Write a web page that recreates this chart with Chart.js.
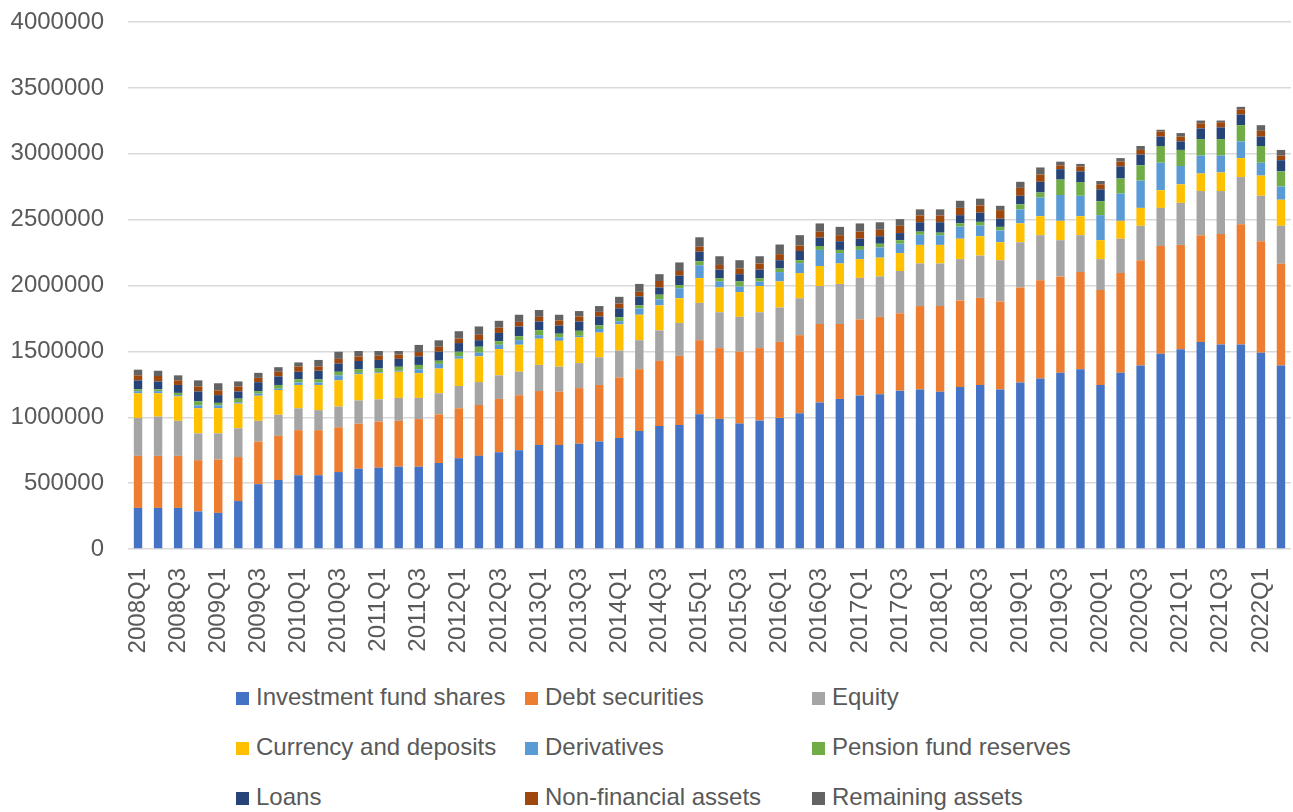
<!doctype html>
<html>
<head>
<meta charset="utf-8">
<title>Assets by instrument</title>
<script src="https://cdn.jsdelivr.net/npm/chart.js"></script>
<style>
  html, body { margin: 0; padding: 0; background: #fff; }
  #wrap { position: relative; width: 1293px; height: 812px; overflow: hidden; }
  #legend {
    position: absolute; left: 236px; top: 672px;
    display: grid; grid-template-columns: 289px 287px 300px;
    font-family: "Liberation Sans", Arial, sans-serif; font-size: 24px; color: #595959;
  }
  #legend .item { height: 50px; line-height: 50px; white-space: nowrap; }
  #legend .box { display: inline-block; width: 13px; height: 13px; margin-right: 7px; vertical-align: 0px; }
</style>
</head>
<body>
<div id="wrap">
  <canvas id="c" width="1293" height="672"></canvas>
  <div id="legend"></div>
</div>
<script>
// quarters 2008Q1 .. 2022Q2
const quarters = [
  '2008Q1','2008Q2','2008Q3','2008Q4','2009Q1','2009Q2','2009Q3','2009Q4',
  '2010Q1','2010Q2','2010Q3','2010Q4','2011Q1','2011Q2','2011Q3','2011Q4',
  '2012Q1','2012Q2','2012Q3','2012Q4','2013Q1','2013Q2','2013Q3','2013Q4',
  '2014Q1','2014Q2','2014Q3','2014Q4','2015Q1','2015Q2','2015Q3','2015Q4',
  '2016Q1','2016Q2','2016Q3','2016Q4','2017Q1','2017Q2','2017Q3','2017Q4',
  '2018Q1','2018Q2','2018Q3','2018Q4','2019Q1','2019Q2','2019Q3','2019Q4',
  '2020Q1','2020Q2','2020Q3','2020Q4','2021Q1','2021Q2','2021Q3','2021Q4',
  '2022Q1','2022Q2'
];

const investmentFundShares = [
  312000, 312000, 312000, 285000, 274000, 364000, 492000, 524000,
  560000, 560000, 584000, 609000, 617000, 625000, 625000, 652000,
  688000, 707000, 734000, 750000, 789000, 789000, 799000, 816000,
  842000, 895000, 933000, 941000, 1022000, 987000, 952000, 976000,
  995000, 1031000, 1112000, 1139000, 1166000, 1174000, 1202000, 1210000,
  1194000, 1229000, 1245000, 1210000, 1264000, 1294000, 1338000, 1365000,
  1245000, 1338000, 1392000, 1482000, 1517000, 1572000, 1553000, 1553000,
  1490000, 1392000
];
const debtSecurities = [
  395000, 395000, 395000, 389000, 405000, 334000, 323000, 335000,
  342000, 342000, 340000, 342000, 350000, 348000, 361000, 370000,
  380000, 386000, 405000, 417000, 410000, 405000, 422000, 429000,
  460000, 470000, 495000, 525000, 563000, 538000, 546000, 549000,
  577000, 592000, 596000, 569000, 577000, 588000, 587000, 634000,
  650000, 658000, 661000, 669000, 721000, 745000, 731000, 737000,
  721000, 756000, 800000, 818000, 791000, 810000, 837000, 911000,
  846000, 773000
];
const equity = [
  288000, 298000, 266000, 204000, 199000, 218000, 158000, 160000,
  166000, 152000, 158000, 177000, 169000, 174000, 161000, 160000,
  169000, 174000, 179000, 179000, 198000, 190000, 190000, 210000,
  204000, 220000, 231000, 250000, 283000, 272000, 264000, 272000,
  261000, 280000, 288000, 304000, 315000, 307000, 321000, 323000,
  323000, 313000, 321000, 313000, 343000, 343000, 275000, 280000,
  234000, 261000, 261000, 289000, 319000, 335000, 327000, 359000,
  345000, 288000
];
const currencyDeposits = [
  187000, 177000, 185000, 190000, 190000, 187000, 190000, 188000,
  177000, 191000, 198000, 198000, 198000, 198000, 187000, 188000,
  207000, 196000, 199000, 204000, 199000, 196000, 196000, 187000,
  199000, 193000, 190000, 187000, 188000, 188000, 188000, 199000,
  198000, 191000, 152000, 155000, 142000, 142000, 136000, 141000,
  141000, 155000, 147000, 136000, 144000, 144000, 147000, 144000,
  144000, 136000, 136000, 134000, 141000, 133000, 141000, 144000,
  153000, 198000
];
const derivatives = [
  16000, 16000, 10000, 22000, 22000, 11000, 16000, 10000,
  19000, 19000, 38000, 11000, 8000, 8000, 30000, 35000,
  19000, 27000, 33000, 35000, 27000, 27000, 11000, 28000,
  24000, 47000, 46000, 76000, 98000, 44000, 43000, 33000,
  71000, 76000, 122000, 79000, 70000, 78000, 71000, 77000,
  74000, 92000, 81000, 90000, 106000, 142000, 196000, 155000,
  190000, 207000, 207000, 209000, 139000, 136000, 128000, 127000,
  98000, 101000
];
const pensionFundReserves = [
  14000, 14000, 17000, 30000, 19000, 27000, 19000, 28000,
  24000, 24000, 27000, 27000, 28000, 30000, 33000, 24000,
  34000, 45000, 27000, 30000, 38000, 27000, 38000, 27000,
  30000, 24000, 35000, 25000, 30000, 27000, 38000, 27000,
  27000, 22000, 30000, 24000, 30000, 28000, 27000, 24000,
  19000, 25000, 28000, 27000, 38000, 38000, 117000, 104000,
  106000, 114000, 117000, 127000, 122000, 125000, 125000, 123000,
  127000, 114000
];
const loans = [
  68000, 60000, 60000, 76000, 59000, 55000, 68000, 65000,
  57000, 65000, 63000, 63000, 65000, 60000, 65000, 68000,
  66000, 50000, 63000, 74000, 66000, 63000, 71000, 68000,
  68000, 68000, 55000, 71000, 73000, 65000, 55000, 65000,
  63000, 70000, 63000, 66000, 55000, 57000, 54000, 71000,
  79000, 62000, 70000, 62000, 65000, 81000, 79000, 81000,
  90000, 92000, 81000, 71000, 65000, 81000, 89000, 81000,
  71000, 85000
];
const nonFinancialAssets = [
  38000, 41000, 35000, 38000, 36000, 38000, 33000, 35000,
  41000, 33000, 35000, 35000, 32000, 33000, 33000, 38000,
  35000, 41000, 40000, 35000, 35000, 38000, 38000, 35000,
  36000, 35000, 49000, 35000, 38000, 35000, 43000, 46000,
  46000, 41000, 45000, 46000, 54000, 49000, 55000, 52000,
  52000, 55000, 55000, 65000, 60000, 55000, 29000, 38000,
  38000, 36000, 35000, 38000, 36000, 39000, 39000, 39000,
  44000, 35000
];
const remainingAssets = [
  43000, 40000, 38000, 46000, 54000, 38000, 38000, 35000,
  30000, 49000, 54000, 41000, 36000, 27000, 54000, 49000,
  55000, 63000, 52000, 54000, 52000, 43000, 41000, 44000,
  51000, 60000, 52000, 65000, 71000, 66000, 63000, 55000,
  73000, 79000, 63000, 63000, 62000, 57000, 51000, 46000,
  46000, 54000, 51000, 33000, 46000, 54000, 28000, 19000,
  25000, 27000, 30000, 14000, 27000, 21000, 13000, 19000,
  43000, 43000
];

const seriesNames = [
  'Investment fund shares', 'Debt securities', 'Equity',
  'Currency and deposits', 'Derivatives', 'Pension fund reserves',
  'Loans', 'Non-financial assets', 'Remaining assets'
];
const seriesData = [
  investmentFundShares, debtSecurities, equity,
  currencyDeposits, derivatives, pensionFundReserves,
  loans, nonFinancialAssets, remainingAssets
];
const seriesColors = [
  '#4472C4', '#ED7D31', '#A5A5A5',
  '#FFC000', '#5B9BD5', '#70AD47',
  '#264478', '#9E480E', '#636363'
];

const FONT = '"Liberation Sans", Arial, sans-serif';
const TEXT = '#595959';

const datasets = seriesNames.map((name, i) => ({
  label: name,
  data: seriesData[i],
  backgroundColor: seriesColors[i],
  borderWidth: 0,
  categoryPercentage: 1,
  barPercentage: 0.42
}));

const chart = new Chart(document.getElementById('c'), {
  type: 'bar',
  data: { labels: quarters, datasets },
  options: {
    responsive: false,
    animation: false,
    layout: { padding: { top: 22, right: 2, left: 0, bottom: 0 } },
    plugins: { legend: { display: false }, tooltip: { enabled: false } },
    scales: {
      x: {
        stacked: true,
        grid: { display: false, drawTicks: false },
        border: { display: false },
        // fixed axis height, no label overflow padding at the sides
        afterFit: s => { s.height = 123; s.paddingLeft = 0; s.paddingRight = 0; },
        ticks: {
          autoSkip: false, minRotation: 90, maxRotation: 90, padding: 19,
          color: TEXT, font: { family: FONT, size: 24 },
          callback: function (v, i) { return i % 2 === 0 ? this.getLabelForValue(v) : ''; }
        }
      },
      y: {
        stacked: true, min: 0, max: 4000000,
        grid: { color: '#D9D9D9', lineWidth: 1.5, drawTicks: false },
        border: { display: false },
        afterFit: s => { s.width = 128; s.paddingTop = 0; s.paddingBottom = 0; },
        ticks: {
          stepSize: 500000, padding: 24,
          color: TEXT, font: { family: FONT, size: 24 },
          callback: v => String(v)
        }
      }
    }
  }
});

// legend laid out in three columns like the original
const legend = document.getElementById('legend');
chart.data.datasets.forEach(ds => {
  const item = document.createElement('div');
  item.className = 'item';
  const box = document.createElement('span');
  box.className = 'box';
  box.style.background = ds.backgroundColor;
  item.appendChild(box);
  item.appendChild(document.createTextNode(ds.label));
  legend.appendChild(item);
});
</script>
</body>
</html>
